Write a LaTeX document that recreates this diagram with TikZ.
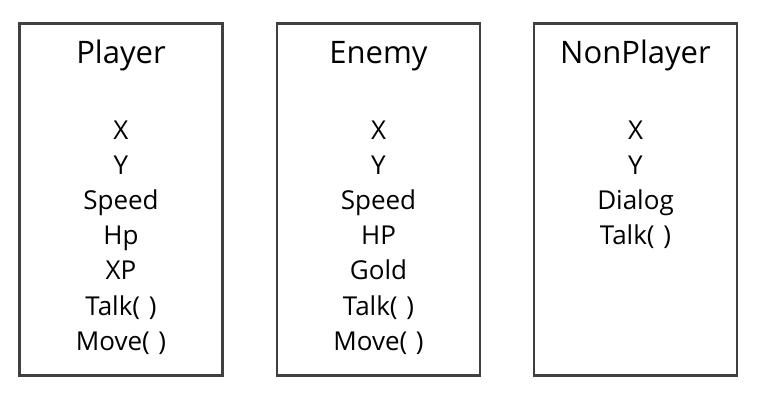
\documentclass[tikz,border=0pt]{standalone}
\usepackage{fontspec}
\setmainfont{Open Sans}

\begin{document}
\begin{tikzpicture}[x=1pt,y=-1pt,
  box/.style={draw=black!75, line width=2.2pt, minimum width=203pt, minimum height=352pt, inner sep=0pt},
  title/.style={font=\fontsize{31}{37}\selectfont, anchor=base},
  item/.style={font=\fontsize{26}{31}\selectfont, anchor=base}]
  \useasboundingbox (0,0) rectangle (767,405);

  \node [box] (player) at (121,199.5) {};
  \node [box] (enemy) at (378.5,199.5) {};
  \node [box] (nonplayer) at (635.5,199.5) {};

  \node [title] (player-title) at (121,63) {Player};
  \node [title] (enemy-title) at (378.5,63) {Enemy};
  \node [title] (nonplayer-title) at (635.5,63) {NonPlayer};

  \foreach \txt [count=\i] in {X,Y,Speed,Hp,XP,Talk(\,\,),Move(\,\,)}
    \node [item] (player-\i) at (121,{139+35.2*(\i-1)}) {\txt};
  \foreach \txt [count=\i] in {X,Y,Speed,HP,Gold,Talk(\,\,),Move(\,\,)}
    \node [item] (enemy-\i) at (378.5,{139+35.2*(\i-1)}) {\txt};
  \foreach \txt [count=\i] in {X,Y,Dialog,Talk(\,\,)}
    \node [item] (nonplayer-\i) at (635.5,{139+35.2*(\i-1)}) {\txt};
\end{tikzpicture}
\end{document}
